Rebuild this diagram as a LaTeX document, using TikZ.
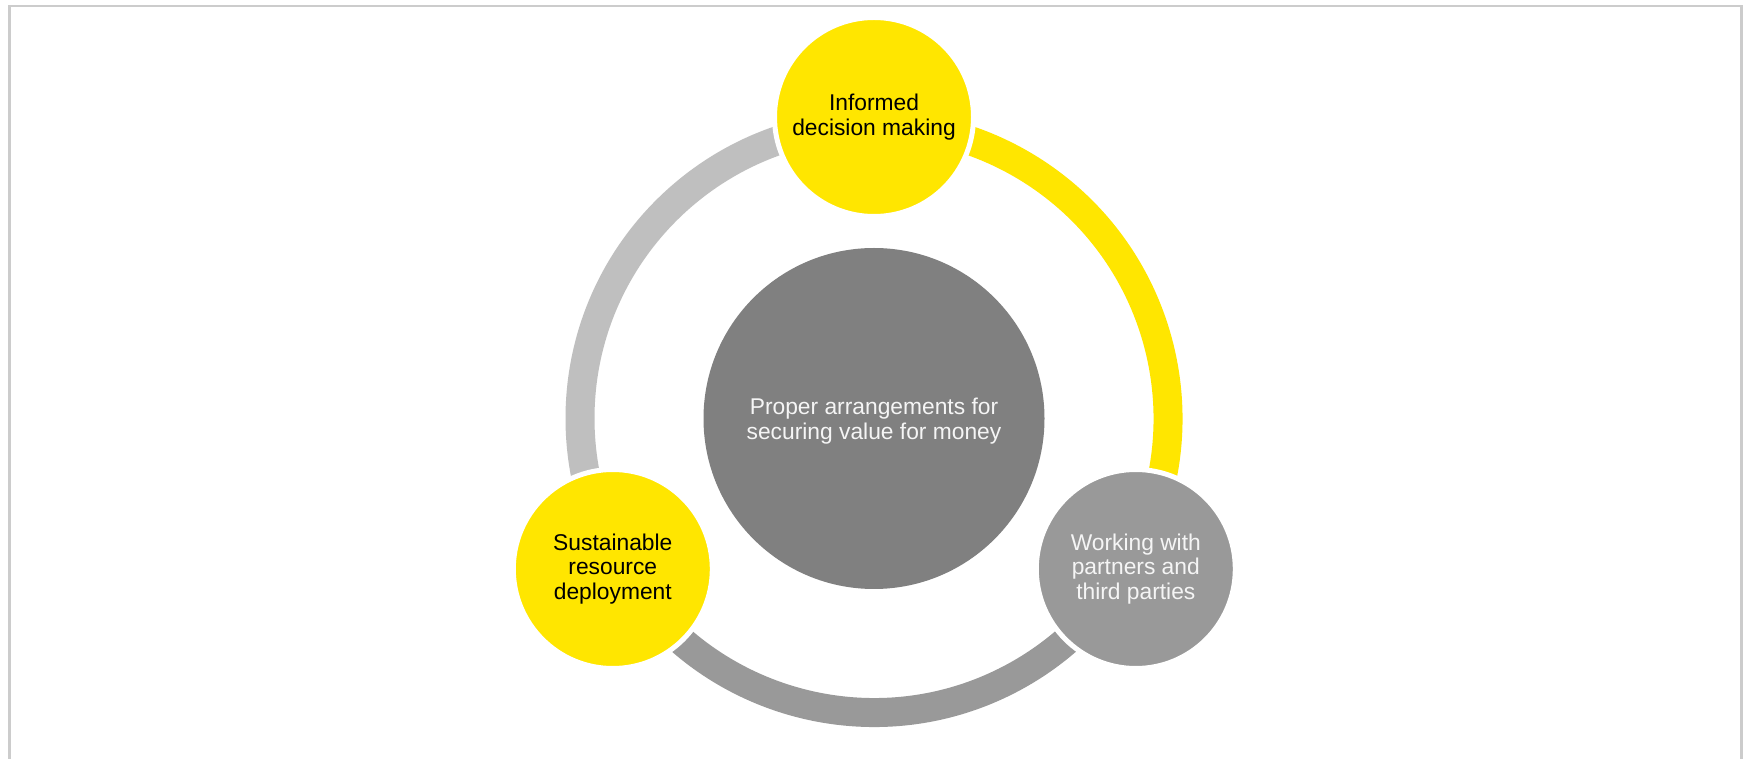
\documentclass[tikz,border=0pt]{standalone}
\usepackage{fontspec}
\setmainfont{Liberation Sans}
\usetikzlibrary{calc}
\definecolor{eyyellow}{HTML}{FFE600}
\definecolor{hubgray}{HTML}{808080}
\definecolor{midgray}{HTML}{999999}
\definecolor{lightgray2}{HTML}{BFBFBF}
\definecolor{framegray}{HTML}{CCCCCC}
\definecolor{textwhite}{HTML}{F5F5F5}
\begin{document}
\begin{tikzpicture}[x=1pt,y=1pt,
  ring/.style={line width=29pt},
  bubble/.style={circle, minimum size=199pt, inner sep=0pt, draw=white, line width=5pt,
    align=center, font=\fontsize{22.8}{24.8}\selectfont},
  hub/.style={circle, minimum size=341pt, inner sep=0pt, fill=hubgray}]
\useasboundingbox (0,0) rectangle (1746,758);
\fill[white] (0,0) rectangle (1746,758);
\draw[framegray, line width=2.6pt] (9.5,-5) -- (9.5,751.8) -- (1741.3,751.8) -- (1741.3,-5);
\coordinate (C) at (874,339.5);
\draw[ring, lightgray2] (C) ++(90:294) arc[start angle=90, end angle=210, radius=294];
\draw[ring, midgray] (C) ++(210:294) arc[start angle=210, end angle=330, radius=294];
\draw[ring, eyyellow] (C) ++(330:294) arc[start angle=330, end angle=450, radius=294];
\node[hub] (hub) at (C) {};
\node[text=textwhite, align=center, font=\fontsize{22.8}{24.8}\selectfont] (hubtext) at ($(C)+(0,-3)$) {Proper arrangements for\\securing value for money};
\node[bubble, fill=eyyellow, text=black] (top) at (874,641) {Informed\\decision making};
\node[bubble, fill=eyyellow, text=black] (bl) at (612.8,189) {Sustainable\\resource\\deployment};
\node[bubble, fill=midgray, text=textwhite] (br) at (1135.8,189) {Working with\\partners and\\third parties};
\end{tikzpicture}
\end{document}
